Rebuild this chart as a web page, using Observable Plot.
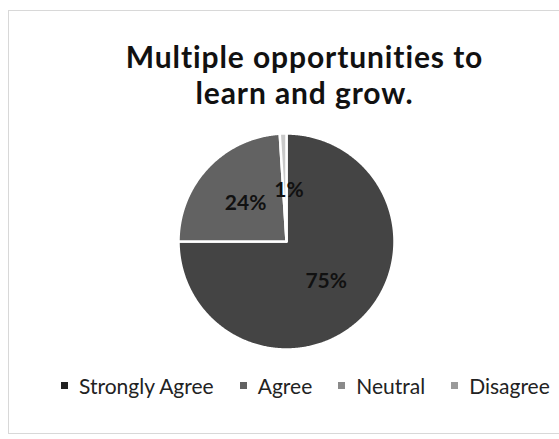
<!DOCTYPE html>
<html><head><meta charset="utf-8">
<script src="https://cdn.jsdelivr.net/npm/d3@7"></script>
<script src="https://cdn.jsdelivr.net/npm/@observablehq/plot@0.6"></script>
<style>
body{margin:0;background:#fff;}
#frame{position:relative;width:559px;height:439px;overflow:hidden;font-family:Lato,"Open Sans",sans-serif;}
#border{position:absolute;left:8px;top:10px;width:560px;height:424px;border:1px solid #d8d8d8;border-right:none;box-sizing:border-box}
#title{position:absolute;top:38px;left:25px;width:559px;text-align:center;font-weight:700;font-size:30px;letter-spacing:0.9px;line-height:36px;color:#111}
#chart{position:absolute;top:118px;left:0}
#legend{position:absolute;top:369px;left:61px;width:620px;white-space:nowrap}
#legend > div{flex-wrap:nowrap !important;}
#legend span{margin-right:26px !important;white-space:nowrap;}
#legend svg{margin-right:11px !important;}
</style></head><body>
<div id="frame">
  <div id="border"></div>
  <div id="title">Multiple opportunities to<br>learn and grow.</div>
  <div id="chart"></div>
  <div id="legend"></div>
</div>
<script>
const categories = ["Strongly Agree", "Agree", "Neutral", "Disagree"];
const values = [75, 24, 1, 0];
const palette = ["#444444", "#626262", "#c9c9c9", "#a8a8a8"];

const arcs = d3.pie().sort(null).value(d => d)(values);
const slices = [];
const labelsData = [];
arcs.forEach((a, i) => {
  if (values[i] <= 0) return;
  const cat = categories[i];
  slices.push({cat, x: 0, y: 0});
  const n = Math.max(2, Math.ceil((a.endAngle - a.startAngle) / (Math.PI / 360)));
  for (let k = 0; k <= n; k++) {
    const t = a.startAngle + (a.endAngle - a.startAngle) * k / n;
    slices.push({cat, x: Math.sin(t), y: Math.cos(t)});
  }
  const mid = (a.startAngle + a.endAngle) / 2;
  const small = values[i] < 5;
  labelsData.push({cat, x: 0.52 * Math.sin(mid) + (small ? 0.04 : 0), y: (small ? 0.47 : 0.52) * Math.cos(mid), text: values[i] + "%"});
});

const R = 108, cx = 286, cy = 123;
const plot = Plot.plot({
  width: 559,
  height: 245,
  marginLeft: cx - R,
  marginRight: 559 - cx - R,
  marginTop: cy - R,
  marginBottom: 245 - cy - R,
  x: {domain: [-1, 1], axis: null},
  y: {domain: [-1, 1], axis: null},
  color: {domain: categories, range: palette},
  style: {fontFamily: "Lato, 'Open Sans', sans-serif", background: "transparent"},
  marks: [
    Plot.line(slices, {x: "x", y: "y", z: "cat", fill: "cat", stroke: "white", strokeWidth: 2.5, curve: "linear-closed"}),
    Plot.text(labelsData, {x: "x", y: "y", text: "text", fontSize: 21, fontWeight: "bold", fill: "#111"})
  ]
});
document.getElementById("chart").appendChild(plot);

const legend = Plot.legend({
  color: {domain: categories, range: ["#222222", "#626262", "#8a8a8a", "#9a9a9a"]},
  swatchSize: 7,
  style: {fontSize: "21px", fontFamily: "Lato, 'Open Sans', sans-serif", color: "#222", background: "transparent"}
});
document.getElementById("legend").appendChild(legend);
</script>
</body></html>
